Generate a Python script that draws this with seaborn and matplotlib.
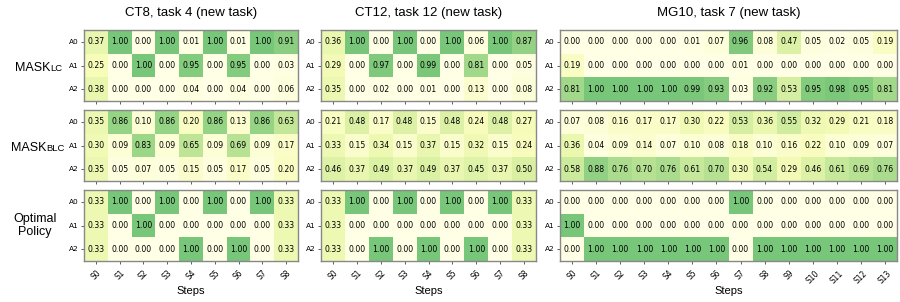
import numpy as np
import matplotlib
matplotlib.use("Agg")
import matplotlib.pyplot as plt
import seaborn as sns

actions = ["A0", "A1", "A2"]
steps_ct = [f"S{i}" for i in range(9)]
steps_mg = [f"S{i}" for i in range(14)]

panel_titles = ["CT8, task 4 (new task)", "CT12, task 12 (new task)", "MG10, task 7 (new task)"]
row_names = [("MASK", "LC"), ("MASK", "BLC"), ("Optimal\nPolicy", "")]

ct8_lc = [[0.37, 1.00, 0.00, 1.00, 0.01, 1.00, 0.01, 1.00, 0.91],
          [0.25, 0.00, 1.00, 0.00, 0.95, 0.00, 0.95, 0.00, 0.03],
          [0.38, 0.00, 0.00, 0.00, 0.04, 0.00, 0.04, 0.00, 0.06]]
ct8_blc = [[0.35, 0.86, 0.10, 0.86, 0.20, 0.86, 0.13, 0.86, 0.63],
           [0.30, 0.09, 0.83, 0.09, 0.65, 0.09, 0.69, 0.09, 0.17],
           [0.35, 0.05, 0.07, 0.05, 0.15, 0.05, 0.17, 0.05, 0.20]]
ct8_opt = [[0.33, 1.00, 0.00, 1.00, 0.00, 1.00, 0.00, 1.00, 0.33],
           [0.33, 0.00, 1.00, 0.00, 0.00, 0.00, 0.00, 0.00, 0.33],
           [0.33, 0.00, 0.00, 0.00, 1.00, 0.00, 1.00, 0.00, 0.33]]

ct12_lc = [[0.36, 1.00, 0.00, 1.00, 0.00, 1.00, 0.06, 1.00, 0.87],
           [0.29, 0.00, 0.97, 0.00, 0.99, 0.00, 0.81, 0.00, 0.05],
           [0.35, 0.00, 0.02, 0.00, 0.01, 0.00, 0.13, 0.00, 0.08]]
ct12_blc = [[0.21, 0.48, 0.17, 0.48, 0.15, 0.48, 0.24, 0.48, 0.27],
            [0.33, 0.15, 0.34, 0.15, 0.37, 0.15, 0.32, 0.15, 0.24],
            [0.46, 0.37, 0.49, 0.37, 0.49, 0.37, 0.45, 0.37, 0.50]]
ct12_opt = [[0.33, 1.00, 0.00, 1.00, 0.00, 1.00, 0.00, 1.00, 0.33],
            [0.33, 0.00, 0.00, 0.00, 0.00, 0.00, 0.00, 0.00, 0.33],
            [0.33, 0.00, 1.00, 0.00, 1.00, 0.00, 1.00, 0.00, 0.33]]

mg10_lc = [[0.00, 0.00, 0.00, 0.00, 0.00, 0.01, 0.07, 0.96, 0.08, 0.47, 0.05, 0.02, 0.05, 0.19],
           [0.19, 0.00, 0.00, 0.00, 0.00, 0.00, 0.00, 0.01, 0.00, 0.00, 0.00, 0.00, 0.00, 0.00],
           [0.81, 1.00, 1.00, 1.00, 1.00, 0.99, 0.93, 0.03, 0.92, 0.53, 0.95, 0.98, 0.95, 0.81]]
mg10_blc = [[0.07, 0.08, 0.16, 0.17, 0.17, 0.30, 0.22, 0.53, 0.36, 0.55, 0.32, 0.29, 0.21, 0.18],
            [0.36, 0.04, 0.09, 0.14, 0.07, 0.10, 0.08, 0.18, 0.10, 0.16, 0.22, 0.10, 0.09, 0.07],
            [0.58, 0.88, 0.76, 0.70, 0.76, 0.61, 0.70, 0.30, 0.54, 0.29, 0.46, 0.61, 0.69, 0.76]]
mg10_opt = [[0, 0, 0, 0, 0, 0, 0, 1, 0, 0, 0, 0, 0, 0],
            [1, 0, 0, 0, 0, 0, 0, 0, 0, 0, 0, 0, 0, 0],
            [0, 1, 1, 1, 1, 1, 1, 0, 1, 1, 1, 1, 1, 1]]

grid = [[ct8_lc, ct12_lc, mg10_lc],
        [ct8_blc, ct12_blc, mg10_blc],
        [ct8_opt, ct12_opt, mg10_opt]]
step_labels = [steps_ct, steps_ct, steps_mg]

W, H = 900, 302
fig = plt.figure(figsize=(W / 100, H / 100), dpi=100)

col_x = [(84, 298), (321, 536), (560, 897)]
row_y = [(30, 101), (110, 181), (190, 261)]

label_font = "Liberation Sans"

for r in range(3):
    for c in range(3):
        x0, x1 = col_x[c]
        y0, y1 = row_y[r]
        ax = fig.add_axes([x0 / W, 1 - y1 / H, (x1 - x0) / W, (y1 - y0) / H])
        data = np.array(grid[r][c], dtype=float)
        sns.heatmap(data, ax=ax, cmap="YlGn", vmin=0, vmax=2, annot=True, fmt=".2f",
                    annot_kws={"fontsize": 5.6, "color": "black"}, cbar=False,
                    xticklabels=step_labels[c], yticklabels=actions)
        for s in ax.spines.values():
            s.set_visible(True)
            s.set_color("#888888")
            s.set_linewidth(1.0)
        ax.tick_params(axis="both", length=2.5, width=0.6, color="#444444", pad=1.5)
        ax.set_yticklabels(actions, rotation=0, fontsize=5.3)
        if r == 2:
            ax.set_xticklabels(step_labels[c], rotation=45, fontsize=5.5)
            ax.tick_params(axis="x", pad=3)
            fig.text((x0 + x1) / 2 / W, 1 - 291 / H, "Steps", ha="center", va="center",
                     fontsize=8, family=label_font)
        else:
            ax.set_xticklabels([])
        if r == 0:
            ax.set_title(panel_titles[c], fontsize=9.5, family=label_font, pad=10)

# row labels
row_centers = [(y0 + y1) / 2 for (y0, y1) in row_y]
split_x = {"LC": 50, "BLC": 46}
for r, (main, sub) in enumerate(row_names):
    yc = 1 - row_centers[r] / H
    if sub:
        xb = split_x[sub] / W
        yb = yc - 0.018
        fig.text(xb, yb, main, ha="right", va="baseline", fontsize=9, family=label_font)
        fig.text(xb, yb, sub, ha="left", va="baseline", fontsize=6.8, family=label_font)
    else:
        fig.text(35 / W, yc, main, ha="center", va="center", fontsize=9,
                 family=label_font, linespacing=1.2)

fig.savefig("out.png", dpi=100)
